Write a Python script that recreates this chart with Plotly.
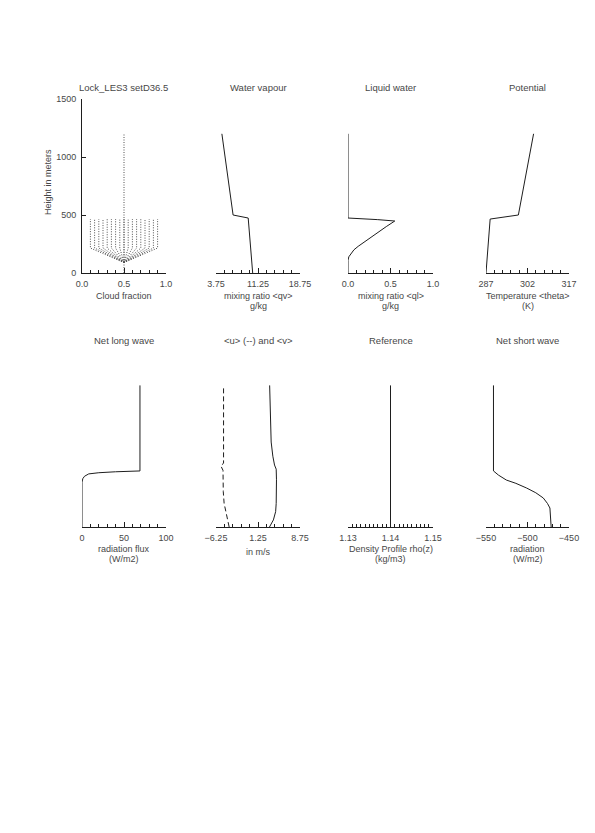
import plotly.graph_objects as go

# page window is 595x833; the html body has an 8px margin
PAGE_W, PAGE_H = 595, 833
OFF = 8
W, H = PAGE_W - OFF, PAGE_H - 2 * OFF

# ---------------- data ----------------
# Cloud fraction (dotted columns)
cf_columns = [0.10, 0.15, 0.20, 0.25, 0.30, 0.35, 0.40, 0.45, 0.50,
              0.55, 0.60, 0.65, 0.70, 0.75, 0.80, 0.85, 0.90]
cf_centre = 0.5
cf_col_heights = [90, 215, 465]
cf_centre_heights = [0, 1200]

# Water vapour
qv_z = [0, 474, 500, 1200]
qv = [10.3, 9.5, 6.8, 4.8]

# Liquid water
ql_z = [0, 110, 140, 170, 200, 230, 300, 400, 448, 460, 474, 1200]
ql = [0.0, 0.0, 0.01, 0.035, 0.07, 0.12, 0.25, 0.45, 0.55, 0.35, 0.0, 0.0]

# Potential temperature
th_z = [0, 465, 500, 1200]
theta = [287.0, 288.5, 298.7, 304.2]

# Net long wave
lw_z = [0, 380, 410, 430, 450, 460, 468, 475, 1200]
lw = [0.0, 0.0, 1.0, 3.0, 8.0, 20.0, 40.0, 69.0, 69.0]

# Winds
u_z = [0, 60, 120, 200, 300, 480, 520, 540, 1200]
u = [-3.9, -4.2, -4.5, -4.8, -4.95, -5.0, -5.4, -4.9, -4.9]
v_z = [0, 60, 130, 200, 400, 490, 525, 600, 720, 900, 1200]
v = [3.3, 4.0, 4.4, 4.5, 4.55, 4.5, 4.2, 3.9, 3.6, 3.5, 3.33]

# Reference density
rho_z = [0, 1200]
rho = [1.14, 1.14]

# Net short wave
sw_z = [0, 161, 200, 246, 290, 330, 370, 398, 440, 475, 1200]
sw = [-471.5, -473, -476, -481, -490, -501, -514, -525.5, -535, -541, -541]

titles = ["Lock_LES3 setD36.5", "Water vapour", "Liquid water", "Potential",
          "Net long wave", "&lt;u&gt; (--) and &lt;v&gt;", "Reference", "Net short wave"]
xtitles = [["Cloud fraction"], ["mixing ratio &lt;qv&gt;", "g/kg"],
           ["mixing ratio &lt;ql&gt;", "g/kg"], ["Temperature &lt;theta&gt;", "(K)"],
           ["radiation flux", "(W/m2)"], ["in m/s"],
           ["Density Profile rho(z)", "(kg/m3)"], ["radiation", "(W/m2)"]]
xranges = [[0.0, 1.0], [3.75, 18.75], [0.0, 1.0], [287, 317],
           [0, 100], [-6.25, 8.75], [1.13, 1.15], [-550, -450]]
xticks = [[0.0, 0.5, 1.0], [3.75, 11.25, 18.75], [0.0, 0.5, 1.0], [287, 302, 317],
          [0, 50, 100], [-6.25, 1.25, 8.75], [1.13, 1.14, 1.15], [-550, -500, -450]]
xticktext = [["0.0", "0.5", "1.0"], ["3.75", "11.25", "18.75"], ["0.0", "0.5", "1.0"],
             ["287", "302", "317"], ["0", "50", "100"], ["\u22126.25", "1.25", "8.75"],
             ["1.13", "1.14", "1.15"], ["\u2212550", "\u2212500", "\u2212450"]]
xminor = [0.1, 1.5, 0.1, 3, 10, 1.5, 0.001, 10]
yticks = [0, 500, 1000, 1500]

# ---------------- layout ----------------
def fx(px):
    return (px - OFF) / W


def fy(py):
    return 1 - (py - OFF) / H


col_px = [(82, 166), (216, 300), (348, 433), (486, 569)]
row_px = [(273, 99), (527, 350)]
title_py = [87, 340]
xt_py = [(296, 306), (549, 559)]

FONT = "Liberation Sans"
FS = 9
TXT = "#474747"
LINE = "#1e1e1e"

fig = go.Figure()

def add(trace, idx):
    trace.update(xaxis="x" if idx == 0 else f"x{idx+1}",
                 yaxis="y" if idx == 0 else f"y{idx+1}")
    fig.add_trace(trace)

dotted = dict(color="#505050", width=1, dash="1px,1.5px")
# cloud fraction
for cx in cf_columns:
    add(go.Scatter(x=[cf_centre, cx, cx], y=cf_col_heights, mode="lines",
                   line=dotted, showlegend=False), 0)
add(go.Scatter(x=[cf_centre, cf_centre], y=cf_centre_heights, mode="lines",
               line=dotted, showlegend=False), 0)

solid = dict(color=LINE, width=1)
add(go.Scatter(x=qv, y=qv_z, mode="lines", line=solid, showlegend=False), 1)
add(go.Scatter(x=ql, y=ql_z, mode="lines", line=solid, showlegend=False), 2)
add(go.Scatter(x=theta, y=th_z, mode="lines", line=solid, showlegend=False), 3)
add(go.Scatter(x=lw, y=lw_z, mode="lines", line=solid, showlegend=False), 4)
add(go.Scatter(x=u, y=u_z, mode="lines", line=dict(color=LINE, width=1, dash="5px,3px"),
               showlegend=False), 5)
add(go.Scatter(x=v, y=v_z, mode="lines", line=solid, showlegend=False), 5)
add(go.Scatter(x=rho, y=rho_z, mode="lines", line=solid, showlegend=False), 6)
add(go.Scatter(x=sw, y=sw_z, mode="lines", line=solid, showlegend=False), 7)

layout = dict(width=W, height=H, margin=dict(l=0, r=0, t=0, b=0, pad=0, autoexpand=False),
              paper_bgcolor="white", plot_bgcolor="white", showlegend=False,
              font=dict(family=FONT, size=FS, color=TXT))
annotations = []
for i in range(8):
    r, c = divmod(i, 4)
    x0, x1 = col_px[c]
    yb, yt = row_px[r]
    xa = "xaxis" if i == 0 else f"xaxis{i+1}"
    ya = "yaxis" if i == 0 else f"yaxis{i+1}"
    layout[xa] = dict(domain=[fx(x0), fx(x1)], range=xranges[i], anchor="y" if i == 0 else f"y{i+1}",
                      showgrid=False, zeroline=False, showline=True, linecolor=LINE, linewidth=1,
                      tickmode="array", tickvals=xticks[i], ticktext=xticktext[i],
                      ticks="inside", ticklen=5, tickcolor=LINE, tickwidth=1,
                      ticklabelstandoff=2, automargin=False,
                      minor=dict(dtick=xminor[i], tick0=xranges[i][0], ticks="inside", ticklen=3,
                                 tickcolor=LINE, tickwidth=1, showgrid=False),
                      tickfont=dict(family=FONT, size=FS, color=TXT), fixedrange=True)
    yd = dict(domain=[fy(yb), fy(yt)], range=[0, 1500], anchor="x" if i == 0 else f"x{i+1}",
              showgrid=False, zeroline=False, fixedrange=True, automargin=False)
    if i == 0:
        yd.update(showline=True, linecolor=LINE, linewidth=1, tickmode="array", tickvals=yticks,
                  ticks="inside", ticklen=4, tickcolor=LINE, ticklabelstandoff=3,
                  tickfont=dict(family=FONT, size=FS, color=TXT))
    else:
        yd.update(visible=False)
    layout[ya] = yd

    xc = fx((x0 + x1) / 2)
    annotations.append(dict(text=titles[i], x=xc, y=fy(title_py[r]), xref="paper", yref="paper",
                            showarrow=False, xanchor="center", yanchor="middle",
                            font=dict(family=FONT, size=9.5, color=TXT)))
    lines = xtitles[i]
    if i == 5:
        annotations.append(dict(text=lines[0], x=xc, y=fy(552), xref="paper", yref="paper",
                                showarrow=False, xanchor="center", yanchor="middle"))
    else:
        for k, t in enumerate(lines):
            annotations.append(dict(text=t, x=xc, y=fy(xt_py[r][k]), xref="paper", yref="paper",
                                    showarrow=False, xanchor="center", yanchor="middle"))

annotations.append(dict(text="Height in meters", x=fx(48), y=fy(182), xref="paper", yref="paper",
                        showarrow=False, textangle=-90, xanchor="center", yanchor="middle"))
layout["annotations"] = annotations
fig.update_layout(**layout)

fig.write_html("out.html")
